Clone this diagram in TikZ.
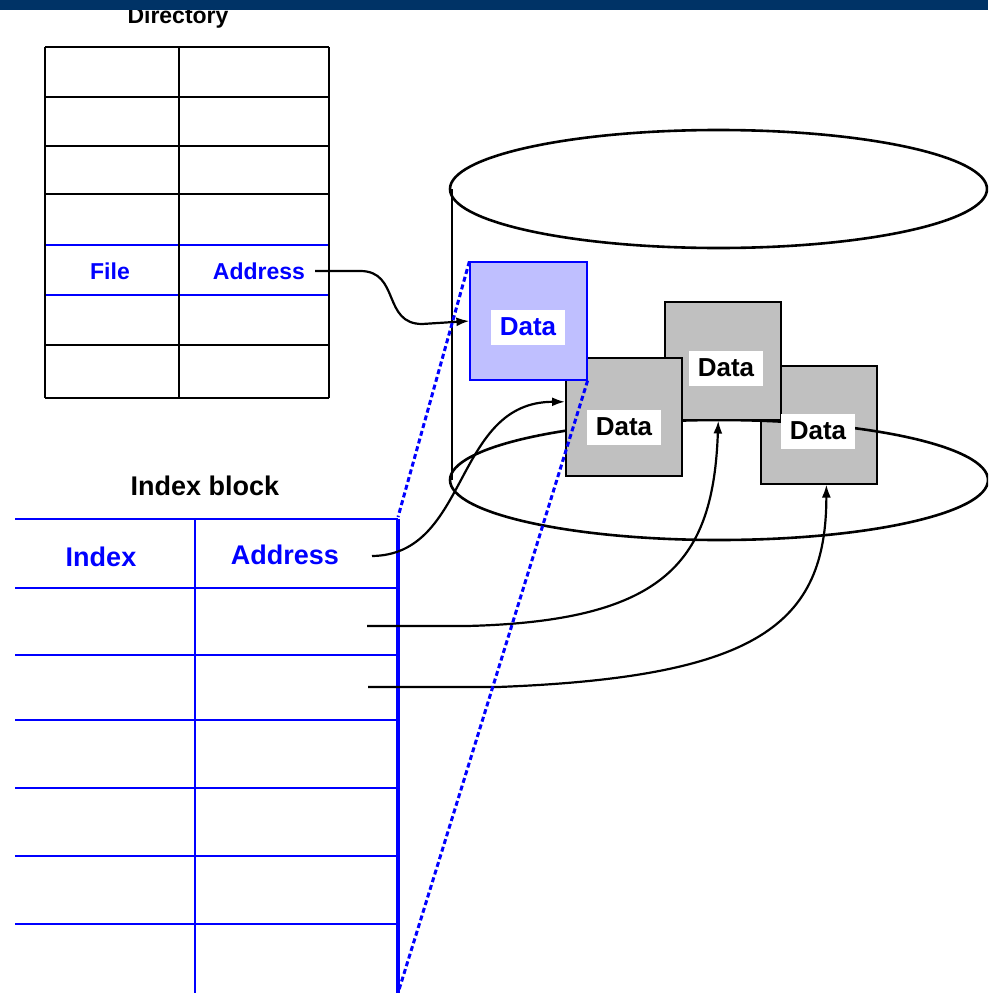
\documentclass[tikz,border=0pt]{standalone}
\usepackage{fontspec}
\setmainfont{Liberation Sans}
\usetikzlibrary{arrows.meta}

\definecolor{barblue}{RGB}{0,51,102}
\definecolor{lavender}{RGB}{191,191,255}
\definecolor{blockgray}{RGB}{192,192,192}

\begin{document}
\begin{tikzpicture}[x=1pt, y=-1pt,
	dirline/.style={line width=2.6pt},
	idxline/.style={blue, line width=2.6pt},
	celltext/.style={inner sep=0pt, font=\fontsize{23}{23}\bfseries\selectfont},
	bigtext/.style={inner sep=0pt, font=\fontsize{27}{27}\bfseries\selectfont},
	block/.style={draw, line width=2pt, fill=blockgray, minimum width=116pt, minimum height=118pt, inner sep=0pt},
	tag/.style={fill=white, minimum width=74pt, minimum height=35pt, inner sep=0pt, font=\fontsize{26}{26}\bfseries\selectfont},
	ptr/.style={line width=2.2pt, -{Latex[length=13pt,width=9pt]}},
	trace/.style={blue, line width=3pt, dash pattern=on 5pt off 3pt}
]
	\useasboundingbox (0,0) rectangle (988,993);
	\clip (0,0) rectangle (988,993);

	% directory table
	\node[celltext] (dirtitle) at (178,18) {Directory};
	\fill[barblue] (0,0) rectangle (988,10);
	\foreach \y in {47,97,146,194,345,398}
		\draw[dirline] (45,\y) -- (329,\y);
	\foreach \y in {245,295}
		\draw[dirline, blue] (45,\y) -- (329,\y);
	\foreach \x in {45,179,329}
		\draw[dirline] (\x,47) -- (\x,398);
	\node[celltext, text=blue] (file) at (110,271) {File};
	\node[celltext, text=blue] (diraddr) at (259,271) {Address};

	% disk
	\draw[line width=2.6pt] (718.5,189) ellipse [x radius=268.5, y radius=59];
	\draw[line width=2.2pt] (452,189) -- (452,480);
	\node[block] (blk4) at (819,424.5) {};
	\draw[line width=2.6pt] (719,480) ellipse [x radius=269, y radius=60];
	\node[block] (blk3) at (722.5,360.5) {};
	\node[block] (blk2) at (624,416.5) {};
	\node[block, draw=blue, line width=1.2pt, fill=lavender, minimum width=117pt] (blk1) at (528.5,321) {};
	\node[tag, text=blue] (tag1) at (528,327) {Data};
	\node[tag] (tag2) at (624,427) {Data};
	\node[tag] (tag3) at (726,368) {Data};
	\node[tag] (tag4) at (818,431) {Data};

	% index block
	\node[bigtext] (idxtitle) at (205,486) {Index block};
	\foreach \y in {519,588,655,720,788,856,924}
		\draw[idxline] (15,\y) -- (398,\y);
	\draw[idxline] (195,519) -- (195,993);
	\draw[idxline, line width=3.5pt] (398,519) -- (398,993);
	\node[bigtext, text=blue] (index) at (101,557) {Index};
	\node[bigtext, text=blue] (idxaddr) at (285,555) {Address};
	\coordinate (idxne) at (398,517);
	\coordinate (idxse) at (398,993);
	\coordinate (row1) at (372,556);
	\coordinate (row2) at (367,626);
	\coordinate (row3) at (368,687);

	% pointers
	\draw[ptr] ([xshift=10pt]diraddr.east) -- ++(45,0) .. controls +(40,0) and +(-40,0) .. ++(62,53) -- (blk1.west);
	\draw[ptr] (row1) .. controls +(98,-1) and +(-112,0) .. (blk2.166);
	\draw[ptr] (row2) -- ++(100,0) .. controls +(200,-5) and +(-5,140) .. (blk3.-94);
	\draw[ptr] (row3) -- ++(130,0) .. controls +(260,-10) and +(0,140) .. (blk4.-83);

	\draw[trace] (blk1.north west) -- (idxne);
	\draw[trace] (blk1.south east) -- (idxse);
\end{tikzpicture}
\end{document}
